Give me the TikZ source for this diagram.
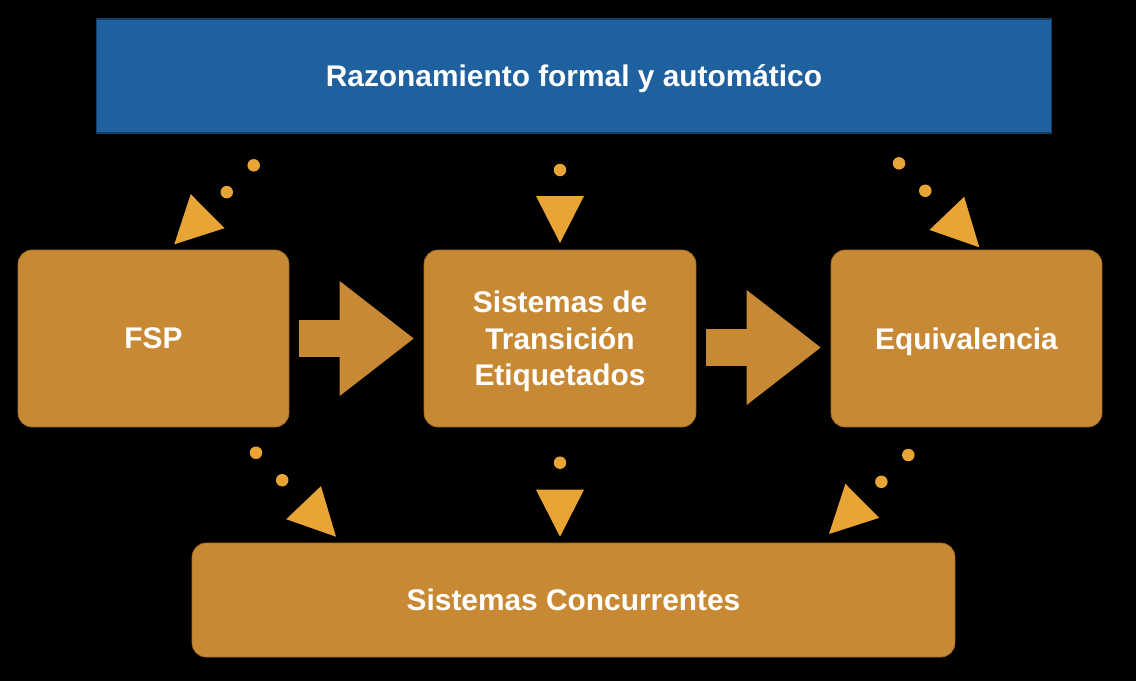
\documentclass[tikz,border=0pt]{standalone}
\usepackage{fontspec}
\setmainfont{Liberation Sans}
\usetikzlibrary{arrows.meta}

\definecolor{boxorange}{RGB}{200,137,52}
\definecolor{boxedge}{RGB}{160,108,40}
\definecolor{dotorange}{RGB}{232,164,53}
\definecolor{topblue}{RGB}{31,96,158}
\definecolor{topedge}{RGB}{20,60,100}

\tikzset{
  boxtext/.style={text=white, font=\fontsize{17}{20.7}\selectfont\bfseries, align=center,
    inner sep=0pt, text depth=0pt},
  topbox/.style={boxtext, fill=topblue, draw=topedge, line width=0.6pt,
    minimum width=19.12cm, minimum height=2.28cm},
  stagebox/.style={boxtext, fill=boxorange, draw=boxedge, line width=0.4pt,
    rounded corners=0.28cm, minimum height=3.54cm},
  blockarrow/.style={draw=boxorange, line width=0.74cm,
    shorten <=0.2cm, shorten >=0.2cm,
    -{Triangle[length=1.48cm, width=2.3cm, line width=0pt]}},
  dotconn/.style={draw=dotorange, line width=0.25cm, line cap=round,
    dash pattern=on 0cm off 0.76cm,
    -{Triangle[length=0.94cm, width=0.96cm, line width=0pt, fill=dotorange]}}
}

\begin{document}
\begin{tikzpicture}[x=0.02cm, y=-0.02cm]
  % canvas
  \fill[black] (0,0) rectangle (1136,681);
  \useasboundingbox (0,0) rectangle (1136,681);

  % boxes
  \node[topbox] (top) at (574,76) {Razonamiento formal y automático};
  \node[stagebox, minimum width=5.42cm] (fsp) at (153.5,338.5) {FSP};
  \node[stagebox, minimum width=5.44cm] (lts) at (560,338.5) {Sistemas de\\Transición\\Etiquetados};
  \node[stagebox, minimum width=5.42cm] (equ) at (966.5,338.5) {Equivalencia};
  \node[stagebox, minimum width=15.26cm, minimum height=2.28cm] (sc) at (573.5,600) {Sistemas Concurrentes};

  % block arrows between the stages
  \draw[blockarrow] (fsp.east) -- (lts.west);
  \draw[blockarrow] ([yshift=-0.18cm]lts.east) -- ([yshift=-0.18cm]equ.west);

  % dotted connectors: ends of each dotted arrow
  \coordinate (t1s) at (253.7,165.3); \coordinate (t1e) at (174.3,244.3);
  \coordinate (t2s) at (560,170);     \coordinate (t2e) at (560,243);
  \coordinate (t3s) at (899,163.3);   \coordinate (t3e) at (979.3,247.3);
  \coordinate (b1s) at (256,452.7);   \coordinate (b1e) at (336,536.7);
  \coordinate (b2s) at (560,462.7);   \coordinate (b2e) at (560,536.7);
  \coordinate (b3s) at (908.3,455);   \coordinate (b3e) at (829,534);

  \draw[dotconn] (t1s) -- (t1e);
  \draw[dotconn] (t2s) -- (t2e);
  \draw[dotconn] (t3s) -- (t3e);
  \draw[dotconn] (b1s) -- (b1e);
  \draw[dotconn] (b2s) -- (b2e);
  \draw[dotconn] (b3s) -- (b3e);
\end{tikzpicture}
\end{document}
